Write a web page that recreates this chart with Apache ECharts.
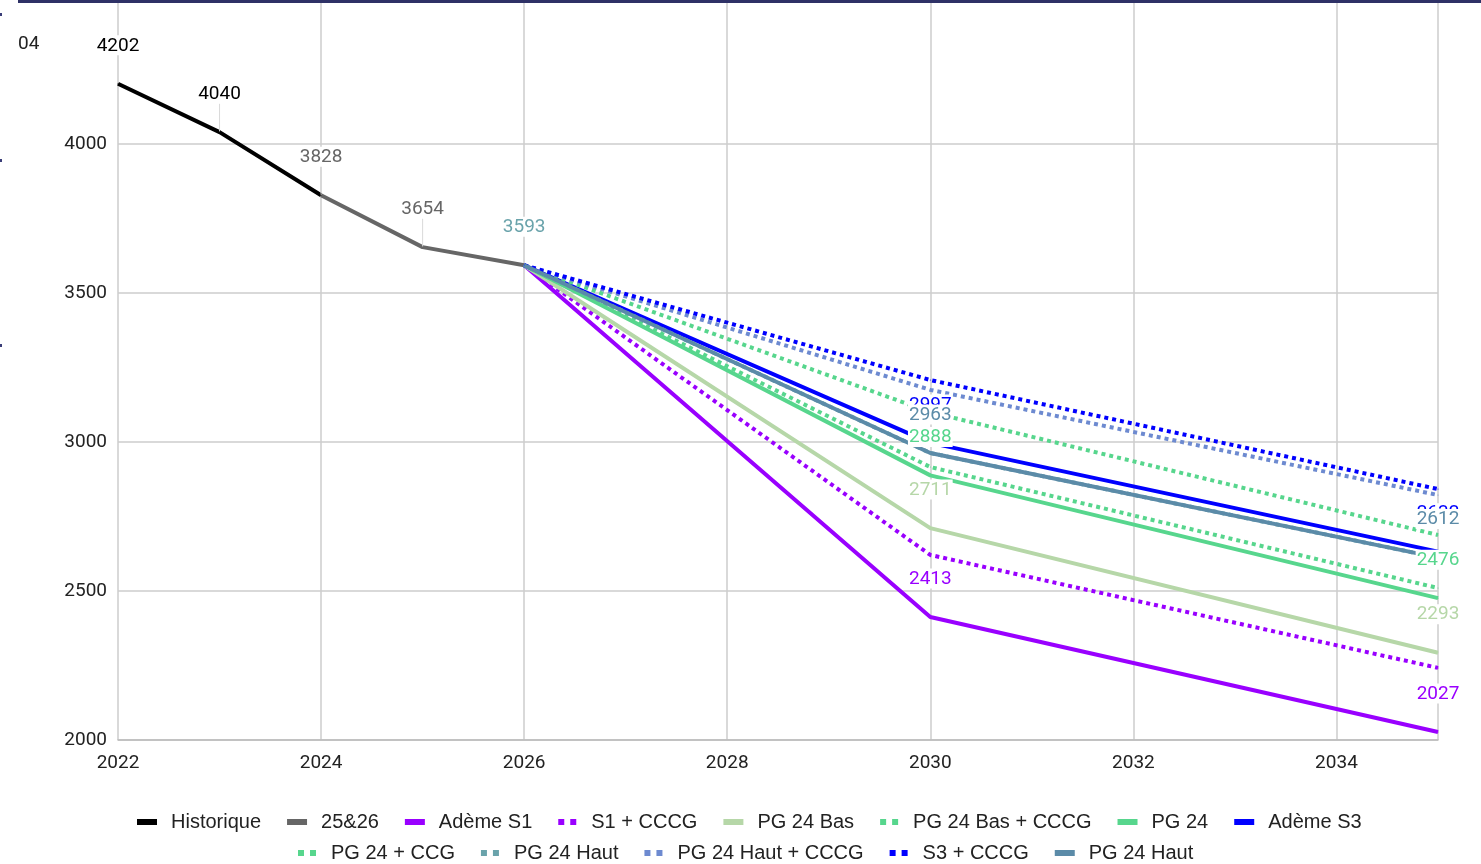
<!DOCTYPE html>
<html>
<head>
<meta charset="utf-8">
<script src="https://cdn.jsdelivr.net/npm/echarts@6/dist/echarts.min.js"></script>
<style>
html,body{margin:0;padding:0;background:#fff;}
#chart{width:1481px;height:864px;}
</style>
</head>
<body>
<div id="chart"></div>
<script>
// ---- data ----
const xTicks = [2022, 2024, 2026, 2028, 2030, 2032, 2034];
const yTicks = [2000, 2500, 3000, 3500, 4000, 4500];
const yTickLabels = ['2000', '2500', '3000', '3500', '4000', ''];

const histYears = [2022, 2023, 2024];
const histValues = [4202, 4040, 3828];
const histLabeled = [2022, 2023];

const bridgeYears = [2024, 2025, 2026];
const bridgeValues = [3828, 3654, 3593];
const bridgeLabeled = [2024, 2025];

const scenarioYears = [2026, 2030, 2035];
const ademeS1 = [3593, 2413, 2027];
const s1Cccg = [3593, 2621, 2242];
const pg24Bas = [3593, 2711, 2293];
const pg24BasCccg = [3593, 2916, 2510];
const pg24 = [3593, 2888, 2476];
const ademeS3 = [3593, 2997, 2632];
const pg24Ccg = [3593, 3100, 2688];
const pg24HautDotted = [3593, 2963, 2612];
const pg24HautCccg = [3593, 3175, 2822];
const s3Cccg = [3593, 3208, 2842];
const pg24Haut = [3593, 2963, 2612];

const legendRow1 = ['Historique', '25&26', 'Adème S1', 'S1 + CCCG', 'PG 24 Bas', 'PG 24 Bas + CCCG', 'PG 24', 'Adème S3'];
const legendRow2 = ['PG 24 + CCG', 'PG 24 Haut', 'PG 24 Haut + CCCG', 'S3 + CCCG', 'PG 24 Haut '];

// ---- styling / building ----
const FONT = 'Roboto';
const LABEL_SIZE = 19;

function pairs(xs, ys) { return xs.map((x, i) => [x, ys[i]]); }

function mkSeries(name, xs, ys, color, dotted, labeledYears, labelColor, leader) {
  const data = pairs(xs, ys).map(p => {
    const show = labeledYears.indexOf(p[0]) >= 0;
    return { value: p, label: { show: show } };
  });
  const s = {
    name: name,
    type: 'line',
    data: data,
    showSymbol: true,
    symbol: 'circle',
    symbolSize: 1,
    itemStyle: { color: color },
    lineStyle: dotted
      ? { color: color, width: 4, type: [4, 4], cap: 'butt' }
      : { color: color, width: 4, cap: 'butt', join: 'round' },
    label: {
      show: false,
      position: 'top',
      distance: 28,
      color: labelColor || color,
      fontFamily: FONT,
      fontSize: LABEL_SIZE,
      backgroundColor: '#ffffff',
      padding: [1, 1, 0, 1],
      formatter: p => String(p.value[1])
    },
    emphasis: { disabled: true },
    animation: false,
    z: 2
  };
  if (leader) {
    s.label.distance = 4;
    s.labelLayout = { dy: -24 };
    s.labelLine = { show: true, showAbove: false, lineStyle: { color: '#d9d9d9', width: 1 } };
  }
  return s;
}

const C = {
  hist: '#000000', bridge: '#666666', s1: '#9900ff', bas: '#b6d7a8',
  green: '#57d68d', s3: '#0000ff', teal: '#6aa3ab', hautCccg: '#6d8ad0', haut: '#5b8ba8'
};

const series = [
  mkSeries('Historique', histYears, histValues, C.hist, false, histLabeled, null, true),
  mkSeries('25&26', bridgeYears, bridgeValues, C.bridge, false, bridgeLabeled, null, true),
  mkSeries('Adème S1', scenarioYears, ademeS1, C.s1, false, [2030, 2035]),
  mkSeries('S1 + CCCG', scenarioYears, s1Cccg, C.s1, true, []),
  mkSeries('PG 24 Bas', scenarioYears, pg24Bas, C.bas, false, [2030, 2035]),
  mkSeries('PG 24 Bas + CCCG', scenarioYears, pg24BasCccg, C.green, true, []),
  mkSeries('PG 24', scenarioYears, pg24, C.green, false, [2030, 2035]),
  mkSeries('Adème S3', scenarioYears, ademeS3, C.s3, false, [2030, 2035]),
  mkSeries('PG 24 + CCG', scenarioYears, pg24Ccg, C.green, true, []),
  mkSeries('PG 24 Haut', scenarioYears, pg24HautDotted, C.teal, true, [2026]),
  mkSeries('PG 24 Haut + CCCG', scenarioYears, pg24HautCccg, C.hautCccg, true, []),
  mkSeries('S3 + CCCG', scenarioYears, s3Cccg, C.s3, true, []),
  mkSeries('PG 24 Haut ', scenarioYears, pg24Haut, C.haut, false, [2030, 2035])
];

const SOLID_ICON = 'path://M0,0L20,0L20,6L0,6Z';
const DOT_ICON = 'path://M0,0L6,0L6,6L0,6Z M12,0L18,0L18,6L12,6Z';
const dottedNames = ['S1 + CCCG', 'PG 24 Bas + CCCG', 'PG 24 + CCG', 'PG 24 Haut', 'PG 24 Haut + CCCG', 'S3 + CCCG'];
function legendData(names) {
  return names.map(n => ({ name: n, icon: dottedNames.indexOf(n) >= 0 ? DOT_ICON : SOLID_ICON, itemStyle: { opacity: 1 } }));
}
const legendCommon = {
  orient: 'horizontal',
  padding: 0,
  itemWidth: 20,
  itemHeight: 6,
  itemGap: 26,
  selectedMode: false,
  itemStyle: { borderWidth: 0 },
  lineStyle: { width: 0 },
  textStyle: { color: '#222', fontSize: 20, fontFamily: 'Liberation Sans, Arial', padding: [0, 0, 0, 9] }
};

const chart = echarts.init(document.getElementById('chart'), null, { renderer: 'canvas' });
chart.setOption({
  backgroundColor: '#ffffff',
  animation: false,
  grid: { left: 118, right: 43, top: -5, bottom: 124, containLabel: false, outerBoundsMode: 'none' },
  xAxis: {
    type: 'value',
    min: xTicks[0],
    max: 2035,
    interval: 2,
    axisLine: { show: true, lineStyle: { color: '#bbbbbb', width: 1.5 } },
    axisTick: { show: false },
    axisLabel: {
      color: '#222', fontSize: 19, fontFamily: FONT, margin: 14,
      showMaxLabel: false,
      formatter: v => (xTicks.indexOf(v) >= 0 ? String(v) : '')
    },
    splitLine: { show: true, lineStyle: { color: '#cccccc', width: 1.5 } }
  },
  yAxis: {
    type: 'value',
    min: yTicks[0],
    max: yTicks[yTicks.length - 1],
    interval: 500,
    axisLine: { show: false },
    axisTick: { show: false },
    axisLabel: {
      color: '#222', fontSize: 19, fontFamily: FONT, margin: 11,
      formatter: v => { const i = yTicks.indexOf(v); return i >= 0 ? yTickLabels[i] : ''; }
    },
    splitLine: { show: true, lineStyle: { color: '#cccccc', width: 1.5 } }
  },
  legend: [
    Object.assign({}, legendCommon, { left: 137, top: 812, data: legendData(legendRow1) }),
    Object.assign({}, legendCommon, { left: 298, top: 843, data: legendData(legendRow2) })
  ],
  graphic: [
    { type: 'rect', shape: { x: 18, y: 0, width: 1463, height: 3 }, style: { fill: '#2e3166' }, silent: true, z: 100 },
    { type: 'rect', shape: { x: 0, y: 13, width: 2, height: 3 }, style: { fill: '#3a3d78' }, silent: true },
    { type: 'rect', shape: { x: 0, y: 159, width: 2, height: 3 }, style: { fill: '#3a3d78' }, silent: true },
    { type: 'rect', shape: { x: 0, y: 344, width: 2, height: 3 }, style: { fill: '#3a3d78' }, silent: true },
    { type: 'text', left: 18, top: 35, style: { text: '04', fill: '#222', font: '19px Roboto' }, silent: true }
  ],
  series: series
});
</script>
</body>
</html>
